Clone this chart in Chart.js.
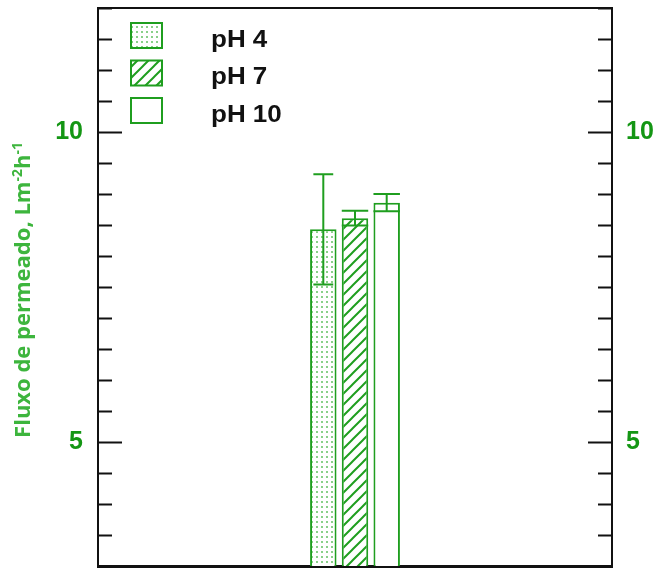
<!DOCTYPE html>
<html><head><meta charset="utf-8">
<script src="https://cdn.jsdelivr.net/npm/chart.js@4"></script>
<style>html,body{margin:0;padding:0;background:#fff;} #wrap{width:660px;height:572px;}</style>
</head><body><div id="wrap"><canvas id="c" width="660" height="572"></canvas></div>
<script>
// ---- data ----
const categories = ['Fluxo'];
const seriesLabels = ['pH 4', 'pH 7', 'pH 10'];
const pH4 = [8.43];
const pH7 = [8.61];
const pH10 = [8.86];
const err_pH4 = [0.89];
const err_pH7 = [0.12];
const err_pH10 = [0.14];
const yTickLabels = [5, 10];
const yMin = 3, yMax = 12, yStep = 0.5;
const titleParts = ['Fluxo de permeado, Lm', '-2', 'h', '-1'];

// ---- styles ----
const GREEN = '#1f9e1f';
const TICK_GREEN = '#149614';
const TITLE_GREEN = '#3db53d';
const capFrac = [0.75, 1, 1];

const canvas = document.getElementById('c');
const ctx = canvas.getContext('2d');

function dotPattern() {
  const c = document.createElement('canvas'); c.width = 5; c.height = 5;
  const g = c.getContext('2d');
  g.fillStyle = '#fff'; g.fillRect(0, 0, 5, 5);
  g.fillStyle = 'rgba(40,170,40,0.55)'; g.fillRect(1, 1, 2, 2);
  return ctx.createPattern(c, 'repeat');
}
function hatchPattern() {
  const c = document.createElement('canvas'); c.width = 11; c.height = 11;
  const g = c.getContext('2d');
  g.fillStyle = '#fff'; g.fillRect(0, 0, 11, 11);
  g.strokeStyle = GREEN; g.lineWidth = 2;
  g.beginPath();
  g.moveTo(-5.5, 5.5); g.lineTo(5.5, -5.5);
  g.moveTo(0, 11); g.lineTo(11, 0);
  g.moveTo(5.5, 16.5); g.lineTo(16.5, 5.5);
  g.stroke();
  return ctx.createPattern(c, 'repeat');
}

const errorBars = {
  id: 'errorBars',
  afterDatasetsDraw(chart) {
    const c = chart.ctx, y = chart.scales.y;
    c.save();
    c.strokeStyle = GREEN; c.lineWidth = 2;
    chart.data.datasets.forEach((ds, i) => {
      const meta = chart.getDatasetMeta(i);
      meta.data.forEach((bar, j) => {
        const v = ds.data[j], e = ds.errors[j];
        const yT = y.getPixelForValue(v + e), yB = y.getPixelForValue(v - e);
        const hw = bar.width * capFrac[i] / 2;
        c.beginPath();
        c.moveTo(bar.x, yT); c.lineTo(bar.x, yB);
        c.moveTo(bar.x - hw, yT); c.lineTo(bar.x + hw, yT);
        c.moveTo(bar.x - hw, yB); c.lineTo(bar.x + hw, yB);
        c.stroke();
      });
    });
    c.restore();
  }
};

const frame = {
  id: 'frame',
  afterDraw(chart) {
    const c = chart.ctx, a = chart.chartArea;
    c.save();
    c.strokeStyle = '#111'; c.lineWidth = 2;
    c.beginPath(); c.moveTo(a.left, a.top); c.lineTo(a.right, a.top); c.stroke();
    ['y', 'y2'].forEach(id => {
      const s = chart.scales[id];
      s.ticks.forEach(t => {
        const py = Math.round(s.getPixelForValue(t.value)) + 0.5;
        const len = (t.value % 5 === 0) ? 24 : 14;
        c.beginPath();
        if (id === 'y') { c.moveTo(a.left, py); c.lineTo(a.left + len, py); }
        else { c.moveTo(a.right, py); c.lineTo(a.right - len, py); }
        c.stroke();
      });
    });
    c.restore();
  }
};

const legendBox = {
  id: 'legendBox',
  afterDraw(chart) {
    const c = chart.ctx;
    const tops = [23, 60.5, 98];
    c.save();
    chart.data.datasets.forEach((ds, i) => {
      c.fillStyle = ds.backgroundColor;
      c.fillRect(131, tops[i], 31, 25);
      c.strokeStyle = ds.borderColor; c.lineWidth = 2;
      c.strokeRect(131, tops[i], 31, 25);
      c.save();
      c.fillStyle = '#111';
      c.font = 'bold 23px "Liberation Sans", Arial, sans-serif';
      c.textBaseline = 'alphabetic';
      c.translate(211, tops[i] + 23.5);
      c.scale(1.13, 1);
      c.fillText(ds.label, 0, 0);
      c.restore();
    });
    c.restore();
  }
};

const axisTitle = {
  id: 'axisTitle',
  afterDraw(chart) {
    const c = chart.ctx;
    const big = 'bold 22px "Open Sans", sans-serif';
    const small = 'bold 14px "Open Sans", sans-serif';
    c.save();
    c.fillStyle = TITLE_GREEN;
    const fonts = [big, small, big, small];
    let total = 0;
    const widths = titleParts.map((p, k) => { c.font = fonts[k]; const w = c.measureText(p).width; total += w; return w; });
    c.translate(0, 290);
    c.rotate(-Math.PI / 2);
    c.textBaseline = 'alphabetic';
    let x = -total / 2;
    titleParts.forEach((p, k) => {
      c.font = fonts[k];
      c.fillText(p, x, k % 2 ? 22 : 30);
      x += widths[k];
    });
    c.restore();
  }
};

const tickFont = { family: '"Liberation Sans", Arial, sans-serif', size: 25, weight: 'bold' };
const noPad = s => { s.paddingTop = 0; s.paddingBottom = 0; };

new Chart(canvas, {
  type: 'bar',
  data: {
    labels: categories,
    datasets: [
      { label: seriesLabels[0], data: pH4, errors: err_pH4, backgroundColor: dotPattern(), borderColor: GREEN, borderWidth: 2 },
      { label: seriesLabels[1], data: pH7, errors: err_pH7, backgroundColor: hatchPattern(), borderColor: GREEN, borderWidth: 2 },
      { label: seriesLabels[2], data: pH10, errors: err_pH10, backgroundColor: '#ffffff', borderColor: GREEN, borderWidth: 2 }
    ]
  },
  options: {
    responsive: false,
    animation: false,
    devicePixelRatio: 1,
    layout: { padding: { top: 8, left: 0, right: 0, bottom: 0 } },
    datasets: { bar: { categoryPercentage: 0.185, barPercentage: 0.835 } },
    plugins: { legend: { display: false }, tooltip: { enabled: false } },
    scales: {
      x: {
        grid: { display: false, drawTicks: false },
        border: { display: true, color: '#111', width: 3 },
        ticks: { display: false },
        afterFit: s => { s.height = 6; s.paddingLeft = 0; s.paddingRight = 0; }
      },
      y: {
        position: 'left', min: yMin, max: yMax,
        grid: { display: false, drawTicks: false },
        border: { display: true, color: '#111', width: 2 },
        ticks: { stepSize: yStep, autoSkip: false, padding: 15, color: TICK_GREEN, font: tickFont,
          callback: v => yTickLabels.includes(v) ? String(v) : '' },
        afterFit: s => { s.width = 98; noPad(s); }
      },
      y2: {
        position: 'right', min: yMin, max: yMax,
        grid: { display: false, drawTicks: false },
        border: { display: true, color: '#111', width: 2 },
        ticks: { stepSize: yStep, autoSkip: false, padding: 14, color: TICK_GREEN, font: tickFont,
          callback: v => yTickLabels.includes(v) ? String(v) : '' },
        afterFit: s => { s.width = 48; noPad(s); }
      }
    }
  },
  plugins: [errorBars, frame, legendBox, axisTitle]
});
</script>
</body></html>
